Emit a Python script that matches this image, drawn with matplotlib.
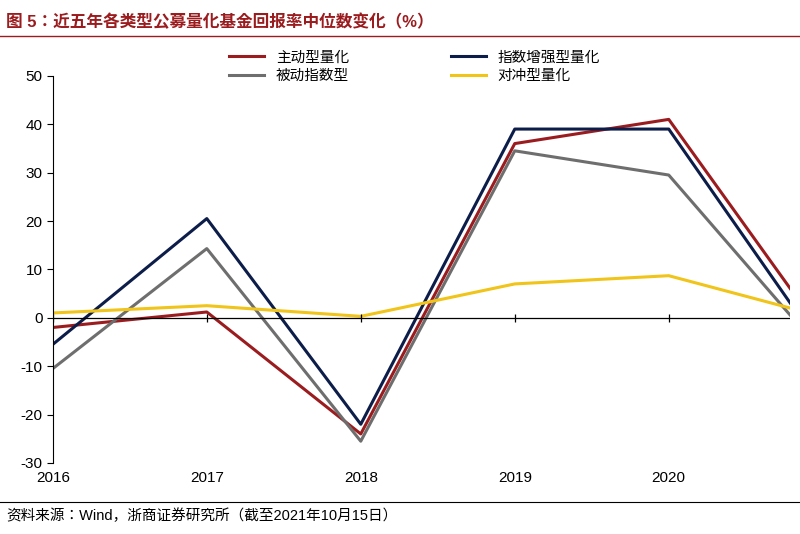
import numpy as np
import matplotlib.pyplot as plt
from matplotlib import font_manager
from matplotlib.lines import Line2D

cjk = sorted({f.name for f in font_manager.fontManager.ttflist if 'Sans CJK' in f.name})
pick = 'Noto Sans CJK SC' if 'Noto Sans CJK SC' in cjk else (cjk[0] if cjk else 'DejaVu Sans')
plt.rcParams['font.family'] = ['Liberation Sans', pick]
plt.rcParams['axes.unicode_minus'] = False

# x positions (last point is Oct 2021, partial year)
years = [2016, 2017, 2018, 2019, 2020, 2020.79]
year_ticks = [2016, 2017, 2018, 2019, 2020]
year_labels = ['2016', '2017', '2018', '2019', '2020']

active = [-2, 1.2, -24, 36, 41, 6]
enhanced = [-5.5, 20.5, -22, 39, 39, 3]
passive = [-10.5, 14.3, -25.5, 34.5, 29.5, 0.5]
hedge = [1, 2.5, 0.3, 7, 8.7, 2]

names = ['主动型量化', '指数增强型量化', '被动指数型', '对冲型量化']
colors = ['#9b1c1f', '#0d1d4a', '#6e6e6e', '#f0c419']

fig = plt.figure(figsize=(8, 5.34), dpi=100)
ax = fig.add_axes([0.066, 0.133, 0.922, 0.725])

for vals, name, c in zip([active, enhanced, passive, hedge], names, colors):
    ax.plot(years, vals, color=c, lw=2.2, label=name)

ax.axhline(0, color='black', lw=0.9)
ax.plot(year_ticks, [0] * len(year_ticks), '|', color='black', ms=6, mew=0.9)

ax.set_xlim(2016, 2020.79)
ax.set_ylim(-30, 50)
ax.set_yticks(np.arange(-30, 51, 10))
ax.set_xticks(year_ticks)
ax.set_xticklabels(year_labels)
ax.tick_params(axis='x', length=0, labelsize=11, pad=6)
ax.tick_params(axis='y', direction='out', labelsize=11, length=4)
for s in ['top', 'right', 'bottom']:
    ax.spines[s].set_visible(False)
ax.spines['left'].set_color('black')

handles = [Line2D([], [], color=c, lw=2.2) for c in colors]
fig.legend([handles[0], handles[2], handles[1], handles[3]],
           [names[0], names[2], names[1], names[3]],
           ncol=2, loc='upper left', bbox_to_anchor=(0.27, 0.93),
           frameon=False, fontsize=10.5, columnspacing=7, handlelength=2.4,
           labelspacing=0.3)

fig.text(0.008, 0.975, '图 5：近五年各类型公募量化基金回报率中位数变化（%）',
         color='#9b1c1f', fontsize=12, fontweight='bold', va='top')
fig.add_artist(Line2D([0, 1], [0.932, 0.932], color='#9b1c1f', lw=1))
fig.add_artist(Line2D([0, 1], [0.06, 0.06], color='black', lw=0.8))
fig.text(0.008, 0.035, '资料来源：Wind，浙商证券研究所（截至2021年10月15日）',
         fontsize=10.5, va='center')

fig.savefig('out.png', dpi=100, facecolor='white')
